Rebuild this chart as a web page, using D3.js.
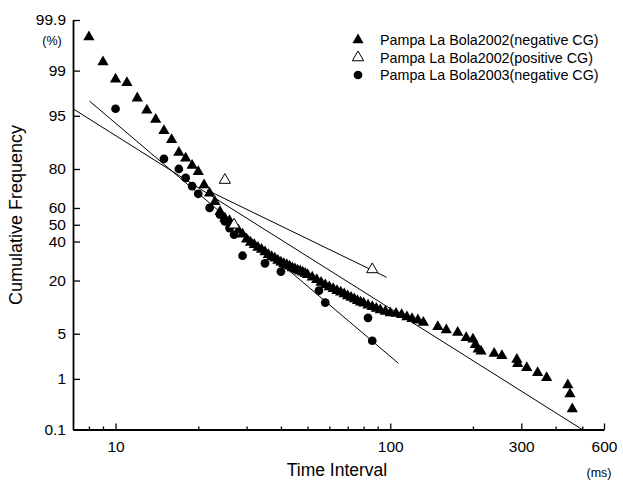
<!DOCTYPE html>
<html>
<head>
<meta charset="utf-8">
<script src="https://cdn.jsdelivr.net/npm/d3@7"></script>
<style>
  body { margin: 0; background: #fff; }
  svg text { font-family: "Liberation Sans", Arial, sans-serif; fill: #000; }
</style>
</head>
<body>
<svg id="chart" width="623" height="483"></svg>
<script>
// Pampa La Bola 2002, negative CG: [interval ms, cumulative %]
const negative2002 = [
  [8, 99.77], [9, 99.3], [10, 98.6], [11, 98.4], [12, 97.2], [13, 95.8], [14, 94.4],
  [15, 92.2], [16, 90.0], [17, 86.2], [18, 84.2], [19, 81.4], [20, 78.8], [21, 72.6],
  [22, 68.3], [23, 63.6], [24, 57.8], [25, 53.9], [26, 52.4], [27, 49.8], [28, 46.7],
  [29, 44.3], [30, 41.3], [31, 39.4], [32, 38.1], [33, 36.6], [34, 35.4], [35, 34.0],
  [36, 32.5], [37, 31.5], [38, 30.6], [39, 29.5], [40, 28.6], [41, 27.8], [42, 27.3],
  [43, 26.5], [44, 25.7], [45, 25.2], [46, 24.6], [47, 24.2], [48, 23.7], [49, 23.1],
  [50, 22.5], [52, 21.4], [54, 20.3], [56, 19.2], [58, 18.2], [60, 17.4], [62, 16.7],
  [64, 16.0], [66, 15.4], [68, 14.8], [70, 14.1], [72, 13.6], [74, 13.1], [76, 12.6],
  [78, 12.1], [80, 11.8], [83, 11.2], [86, 10.8], [89, 10.3], [92, 9.9], [96, 9.5],
  [100, 9.15], [105, 9.0], [110, 8.7], [115, 8.2], [120, 7.8], [126, 7.5], [132, 7.0],
  [149, 6.2], [160, 5.6], [176, 5.2], [189, 4.4], [200, 4.2], [204, 3.5], [209, 3.0],
  [214, 2.8], [239, 2.6], [255, 2.4], [289, 2.1], [291, 1.8], [314, 1.55], [344, 1.28],
  [371, 1.05], [443, 0.78], [451, 0.53], [460, 0.27]
];

// Pampa La Bola 2002, positive CG
const positive2002 = [[25, 75], [27, 50], [86, 25]];

// Pampa La Bola 2003, negative CG
const negative2003 = [
  [10, 96], [15, 84], [17, 80], [18, 76], [19, 72], [20, 68], [22, 60], [24, 56],
  [25, 52], [26, 48], [27, 44], [29, 32], [35, 28], [40, 24], [55, 16], [58, 12],
  [83, 8], [86, 4]
];

// fitted lines, [start, end] as [ms, %]
const fitNegative2002 = [[7, 96], [500, 0.1]];
const fitNegative2003 = [[8.04, 96.9], [107, 1.83]];
const fitPositive2002 = [[21.5, 70], [97, 21.4]];

const yTicks = [0.1, 1, 5, 20, 40, 50, 60, 80, 95, 99, 99.9];
const xMajorTicks = [10, 100, 300, 600];
const xMinorTicks = [8, 9, 20, 30, 40, 50, 60, 70, 80, 90, 200, 400, 500];

const seriesNames = [
  'Pampa La Bola2002(negative CG)',
  'Pampa La Bola2002(positive CG)',
  'Pampa La Bola2003(negative CG)'
];

// inverse normal cdf (Acklam), used for the probability axis
function probit(p) {
  const a = [-3.969683028665376e+01, 2.209460984245205e+02, -2.759285104469687e+02,
             1.383577518672690e+02, -3.066479806614716e+01, 2.506628277459239e+00];
  const b = [-5.447609879822406e+01, 1.615858368580409e+02, -1.556989798598866e+02,
             6.680131188771972e+01, -1.328068155288572e+01];
  const c = [-7.784894002430293e-03, -3.223964580411365e-01, -2.400758277161838e+00,
             -2.549732539343734e+00, 4.374664141464968e+00, 2.938163982698783e+00];
  const d = [7.784695709041462e-03, 3.224671290700398e-01, 2.445134137142996e+00,
             3.754408661907416e+00];
  const lo = 0.02425;
  if (p < lo) {
    const q = Math.sqrt(-2 * Math.log(p));
    return (((((c[0]*q+c[1])*q+c[2])*q+c[3])*q+c[4])*q+c[5]) / ((((d[0]*q+d[1])*q+d[2])*q+d[3])*q+1);
  }
  if (p <= 1 - lo) {
    const q = p - 0.5, r = q * q;
    return (((((a[0]*r+a[1])*r+a[2])*r+a[3])*r+a[4])*r+a[5])*q / (((((b[0]*r+b[1])*r+b[2])*r+b[3])*r+b[4])*r+1);
  }
  const q = Math.sqrt(-2 * Math.log(1 - p));
  return -(((((c[0]*q+c[1])*q+c[2])*q+c[3])*q+c[4])*q+c[5]) / ((((d[0]*q+d[1])*q+d[2])*q+d[3])*q+1);
}

const svg = d3.select('#chart');
const margin = { left: 73, right: 604, top: 20, bottom: 429.5 };

const x = d3.scaleLog().domain([7, 600]).range([margin.left, margin.right]);
const yz = d3.scaleLinear().domain([probit(0.001), probit(0.999)]).range([margin.bottom, margin.top]);
const y = pct => yz(probit(pct / 100));

// axes
const xAxisMinor = d3.axisBottom(x).tickValues(xMinorTicks).tickSize(-3).tickSizeOuter(0).tickFormat('');
const xAxis = d3.axisBottom(x).tickValues(xMajorTicks).tickSize(-6).tickSizeOuter(0)
  .tickPadding(11).tickFormat(d3.format('d'));

svg.append('g').attr('transform', `translate(0,${margin.bottom})`).call(xAxisMinor)
  .call(g => g.select('.domain').remove());
const gx = svg.append('g').attr('transform', `translate(0,${margin.bottom})`).call(xAxis);

const yAxis = d3.axisLeft(yz)
  .tickValues(yTicks.map(p => probit(p / 100)))
  .tickFormat((d, i) => yTicks[i])
  .tickSize(-7).tickSizeOuter(0).tickPadding(7);
const gy = svg.append('g').attr('transform', `translate(${margin.left},0)`).call(yAxis);

[gx, gy].forEach(g => {
  g.select('.domain').attr('stroke', '#000').attr('stroke-width', 1.8);
  g.selectAll('.tick text').attr('font-size', 15.5).style('font-family', '"Liberation Sans", Arial, sans-serif');
});
svg.selectAll('.tick line').attr('stroke', '#000').attr('stroke-width', 1.3);

// axis titles
svg.append('text').attr('x', 337).attr('y', 476).attr('text-anchor', 'middle')
  .attr('font-size', 17.5).text('Time Interval');
svg.append('text').attr('x', 599).attr('y', 477).attr('text-anchor', 'middle')
  .attr('font-size', 12.5).text('(ms)');
svg.append('text').attr('transform', 'translate(22,215) rotate(-90)').attr('text-anchor', 'middle')
  .attr('font-size', 18).text('Cumulative Frequency');
svg.append('text').attr('x', 52).attr('y', 45).attr('text-anchor', 'middle')
  .attr('font-size', 12.5).text('(%)');

// fit lines
const plot = svg.append('g');
[fitNegative2002, fitNegative2003, fitPositive2002].forEach(f => {
  plot.append('line')
    .attr('x1', x(f[0][0])).attr('y1', y(f[0][1]))
    .attr('x2', x(f[1][0])).attr('y2', y(f[1][1]))
    .attr('stroke', '#000').attr('stroke-width', 1);
});

const tri = d3.symbol().type(d3.symbolTriangle).size(55);
const dot = d3.symbol().type(d3.symbolCircle).size(60);

plot.selectAll('.neg02').data(negative2002).join('path')
  .attr('class', 'neg02')
  .attr('transform', d => `translate(${x(d[0])},${y(d[1])})`)
  .attr('d', tri).attr('fill', '#000');

plot.selectAll('.neg03').data(negative2003).join('path')
  .attr('class', 'neg03')
  .attr('transform', d => `translate(${x(d[0])},${y(d[1])})`)
  .attr('d', dot).attr('fill', '#000');

plot.selectAll('.pos02').data(positive2002).join('path')
  .attr('class', 'pos02')
  .attr('transform', d => `translate(${x(d[0])},${y(d[1])})`)
  .attr('d', tri).attr('fill', '#fff').attr('stroke', '#000').attr('stroke-width', 1);

// legend
const legend = svg.append('g').attr('transform', 'translate(358,40)');
const legendSymbols = [
  { d: tri, fill: '#000', stroke: 'none' },
  { d: tri, fill: '#fff', stroke: '#000' },
  { d: dot, fill: '#000', stroke: 'none' }
];
seriesNames.forEach((name, i) => {
  const row = legend.append('g').attr('transform', `translate(0,${i * 17.5})`);
  row.append('path').attr('d', legendSymbols[i].d)
    .attr('fill', legendSymbols[i].fill).attr('stroke', legendSymbols[i].stroke);
  row.append('text').attr('x', 22).attr('y', 5).attr('font-size', 14.3).text(name);
});
</script>
</body>
</html>
